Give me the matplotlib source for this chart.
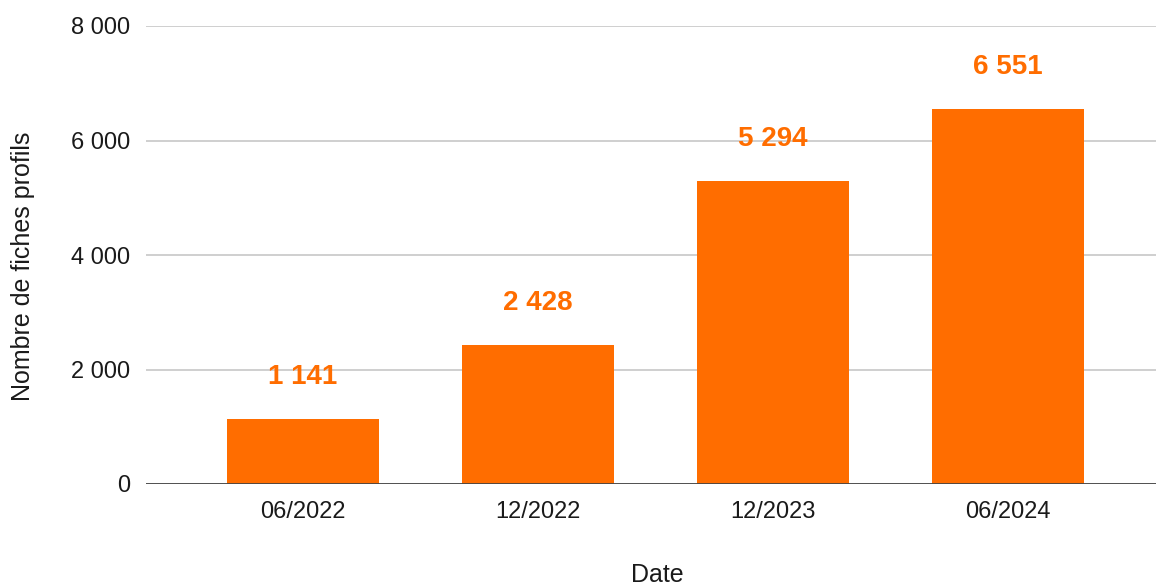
import matplotlib
matplotlib.use("Agg")
import matplotlib.pyplot as plt

categories = ["06/2022", "12/2022", "12/2023", "06/2024"]
values = [1141, 2428, 5294, 6551]
yticks = [0, 2000, 4000, 6000, 8000]
ytick_labels = ["0", "2 000", "4 000", "6 000", "8 000"]
value_labels = ["1 141", "2 428", "5 294", "6 551"]

plt.rcParams['font.family'] = ['Liberation Sans', 'DejaVu Sans']
orange = "#FF6D00"

fig = plt.figure(figsize=(11.56, 5.85), dpi=100)
ax = fig.add_axes([146/1156, 101/585, 1 - 146/1156, 458/585])

x = list(range(len(categories)))
ax.bar(x, values, width=0.647, color=orange, zorder=3)
for xi, v, lab in zip(x, values, value_labels):
    ax.annotate(lab, (xi, v), xytext=(0, 29), textcoords="offset pixels",
                ha="center", va="bottom", fontsize=20, fontweight="bold", color=orange, zorder=4)

ax.set_xlim(-0.668, 3.63)
ax.set_ylim(0, 8000)
ax.set_yticks(yticks)
ax.set_yticklabels(ytick_labels)
ax.set_xticks(x)
ax.set_xticklabels(categories)
ax.tick_params(axis='both', length=0, labelsize=17, colors="#1a1a1a")
ax.tick_params(axis='y', pad=11.5)
ax.tick_params(axis='x', pad=12)
for s in ax.spines.values():
    s.set_visible(False)
ax.yaxis.grid(True, color="#cccccc", linewidth=1.3, zorder=0)
ax.set_axisbelow(True)
ax.axhline(0, color="#444444", linewidth=2, zorder=5)

fig.text(23/1156, 1 - 266/585, "Nombre de fiches profils", rotation=90, ha="center", va="center",
         fontsize=18, color="#1a1a1a")
fig.text(657/1156, 1 - 575/585, "Date", ha="center", va="center", fontsize=18, color="#1a1a1a")

fig.savefig("out.png", dpi=100)
